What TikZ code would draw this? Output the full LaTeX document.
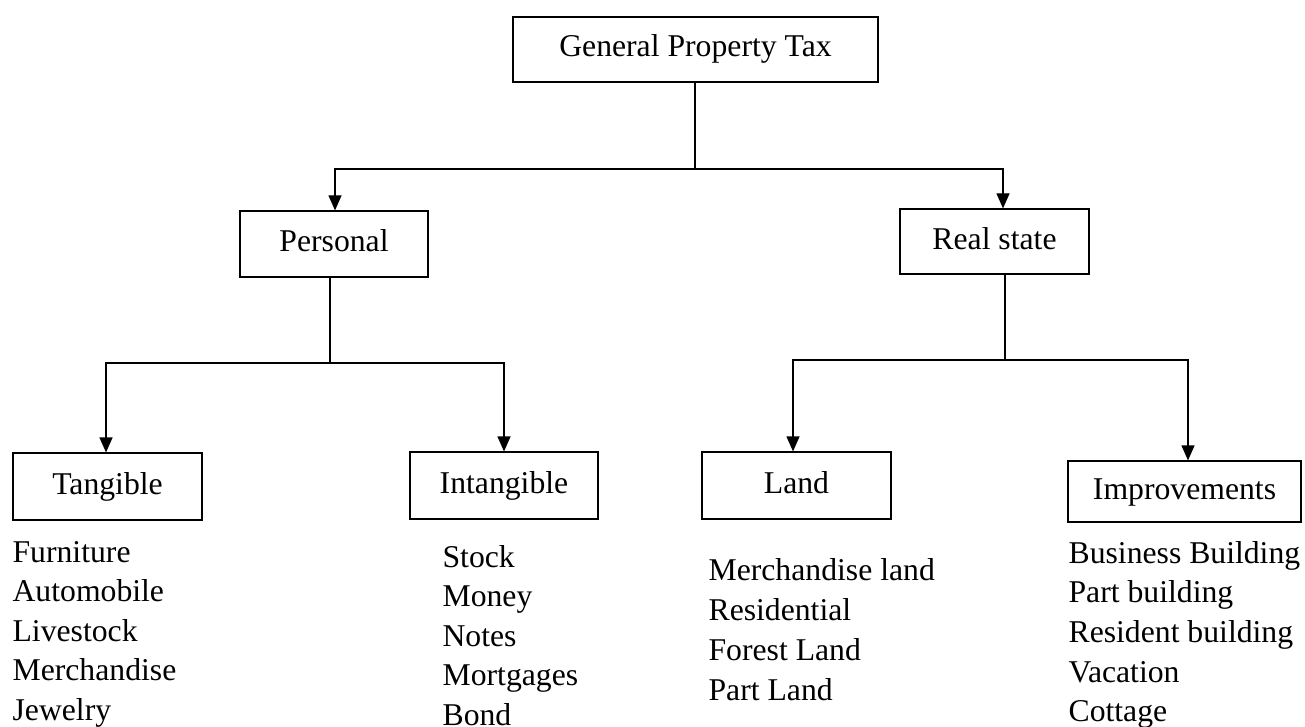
\documentclass[tikz,border=0pt]{standalone}
\usepackage{fontspec}
\setmainfont{Liberation Serif}
\usetikzlibrary{arrows.meta}
\begin{document}
\begin{tikzpicture}[x=1pt,y=-1pt,line width=1.2pt,>={Triangle[length=15pt,width=13pt]},font={\fontsize{31.7pt}{39.5pt}\selectfont},
	box/.style={draw,inner sep=0pt,text height=22pt,text depth=7pt,minimum height=66pt},
	item/.style={anchor=base west,inner sep=0pt}]
	\useasboundingbox (0,0) rectangle (1305,727);
	\node[box,minimum width=365pt,minimum height=65pt] (gpt) at (695.5,49.5) {General Property Tax};
	\node[box,minimum width=188pt] (personal) at (334,244) {Personal};
	\node[box,minimum width=189pt,minimum height=65pt] (realstate) at (994.5,241.5) {Real state};
	\node[box,minimum width=189pt,minimum height=67pt] (tangible) at (107.5,486.5) {Tangible};
	\node[box,minimum width=188pt,minimum height=67pt] (intangible) at (504,485.5) {Intangible};
	\node[box,minimum width=189pt,minimum height=67pt] (land) at (796.5,485.5) {Land};
	\node[box,minimum width=233pt,minimum height=61pt] (improvements) at (1184.5,491.5) {Improvements};
	\coordinate (top) at (695,169);
	\coordinate (left) at (330,363);
	\coordinate (right) at (1005,360);
	\draw (gpt.south -| top) -- (top);
	\draw[->] (top) -| ([xshift=1pt]personal.north);
	\draw[->] (top) -| ([xshift=8.5pt]realstate.north);
	\draw (personal.south -| left) -- (left);
	\draw[->] (left) -| ([xshift=-1.5pt]tangible.north);
	\draw[->] (left) -| (intangible.north);
	\draw (realstate.south -| right) -- (right);
	\draw[->] (right) -| ([xshift=-3.5pt]land.north);
	\draw[->] (right) -| ([xshift=3.5pt]improvements.north);
	\foreach \t [count=\i] in {Furniture,Automobile,Livestock,Merchandise,Jewelry}
		\node[item] (tang\i) at (12,{562+39.5*(\i-1)}) {\t};
	\foreach \t [count=\i] in {Stock,Money,Notes,Mortgages,Bond}
		\node[item] (intang\i) at (442,{567+39.5*(\i-1)}) {\t};
	\foreach \t [count=\i] in {Merchandise land,Residential,Forest Land,Part Land}
		\node[item] (land\i) at (708,{580+40*(\i-1)}) {\t};
	\foreach \t [count=\i] in {Business Building,Part building,Resident building,Vacation,Cottage}
		\node[item] (impr\i) at (1068,{563+39.7*(\i-1)}) {\t};
\end{tikzpicture}
\end{document}
